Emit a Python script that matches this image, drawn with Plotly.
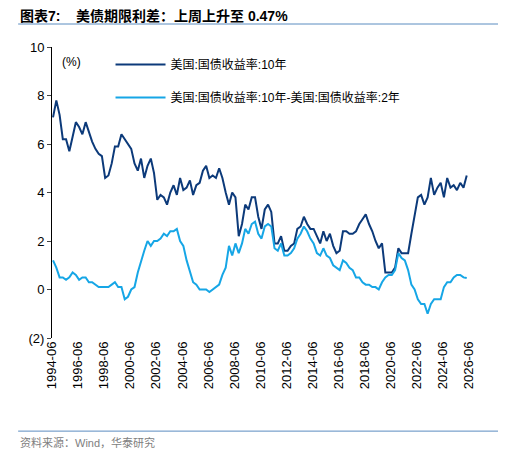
import pandas as pd
import plotly.graph_objects as go

# 美国10年期国债收益率（季度，%）
y10 = [7.1, 7.8,
       7.2, 6.2, 6.2, 5.7, 6.3, 6.9, 6.7, 6.4, 6.9, 6.5, 6.1, 5.8, 5.6, 5.5, 4.6, 4.7,
       5.2, 5.9, 5.9, 6.4, 6.2, 6.0, 5.8, 5.2, 4.9, 5.4, 4.6, 5.1, 5.4, 4.8, 3.7, 3.9,
       3.8, 3.5, 4.0, 4.3, 3.9, 4.6, 4.1, 4.2, 4.5, 3.9, 4.3, 4.4, 4.9, 5.1, 4.6, 4.7,
       4.6, 5.0, 4.6, 4.0, 3.5, 4.0, 3.8, 2.2, 2.7, 3.5, 3.3, 3.8, 3.8, 3.0, 2.5, 3.3,
       3.5, 3.2, 1.9, 1.9, 2.2, 1.6, 1.6, 1.8, 1.9, 2.5, 2.6, 3.0, 2.7, 2.5, 2.5, 2.2,
       1.9, 2.4, 2.0, 2.3, 1.8, 1.5, 1.6, 2.4, 2.4, 2.3, 2.3, 2.4, 2.7, 2.9, 3.1, 2.7,
       2.4, 2.0, 1.7, 1.9, 0.7, 0.7, 0.7, 0.9, 1.7, 1.5, 1.5, 1.5, 2.3, 3.0, 3.8, 3.9,
       3.5, 3.8, 4.6, 3.9, 4.2, 4.4, 3.8, 4.6, 4.2, 4.3, 4.1, 4.4,
       4.2, 4.7]
# 10年-2年利差（%）
spread = [1.2, 0.9,
          0.5, 0.5, 0.4, 0.5, 0.7, 0.6, 0.4, 0.5, 0.5, 0.3, 0.3, 0.2, 0.1, 0.1, 0.1, 0.1,
          0.2, 0.3, 0.1, 0.1, -0.4, -0.3, 0.0, 0.1, 0.7, 1.2, 1.6, 2.0, 1.8, 2.0, 2.0, 2.1,
          2.3, 2.2, 2.4, 2.4, 2.5, 2.0, 1.8, 1.2, 0.7, 0.3, 0.2, 0.0, 0.0, 0.0, -0.1, 0.0,
          0.1, 0.2, 0.6, 0.9, 1.8, 1.4, 1.9, 1.5, 1.9, 2.5, 2.3, 2.7, 2.8, 2.3, 2.1, 2.6,
          2.7, 2.6, 1.7, 1.6, 1.9, 1.4, 1.4, 1.5, 1.7, 2.1, 2.3, 2.6, 2.4, 2.1, 1.9, 1.5,
          1.4, 1.7, 1.4, 1.3, 1.0, 0.9, 0.8, 1.2, 1.1, 0.9, 0.8, 0.5, 0.5, 0.3, 0.2, 0.2,
          0.1, 0.1, 0.0, 0.3, 0.5, 0.6, 0.6, 0.8, 1.5, 1.3, 1.2, 0.8, 0.2, 0.0, -0.4, -0.6,
          -0.6, -1.0, -0.6, -0.4, -0.4, -0.4, 0.1, 0.3, 0.3, 0.5, 0.6, 0.6,
          0.5, 0.47]
dates = pd.date_range("1994-06-30", periods=len(y10), freq="QE")

tick_vals = [pd.Timestamp(f"{y}-06-01") for y in range(1994, 2027, 2)]
tick_text = [f"{y}-06" for y in range(1994, 2027, 2)]

font = "Liberation Sans, Noto Sans CJK SC, sans-serif"

fig = go.Figure()
fig.add_trace(go.Scatter(x=dates, y=y10, mode="lines", name="美国:国债收益率:10年",
                         legendgroup="a", line=dict(color="#0c3a7a", width=2)))
fig.add_trace(go.Scatter(x=dates, y=spread, mode="lines", name="美国:国债收益率:10年-美国:国债收益率:2年",
                         legendgroup="b", line=dict(color="#16a6e6", width=2)))

fig.update_layout(
    width=506, height=455,
    margin=dict(l=44, r=44, t=39, b=125),
    plot_bgcolor="white", paper_bgcolor="white",
    font=dict(family=font, size=13, color="black"),
    legend=dict(x=0.14, y=0.99, xanchor="left", yanchor="top", bgcolor="rgba(0,0,0,0)",
                font=dict(size=12), tracegroupgap=14, itemwidth=50),
    xaxis=dict(range=[pd.Timestamp("1994-06-01"), pd.Timestamp("2026-07-01")],
               tickvals=tick_vals, ticktext=tick_text, tickangle=-90,
               showgrid=False, showline=False, ticks="", zeroline=False),
    yaxis=dict(range=[-2, 10], tickvals=[-2, 0, 2, 4, 6, 8, 10],
               ticktext=["(2)", "0", "2", "4", "6", "8", "10"],
               showgrid=False, showline=True, linecolor="black", ticks="outside",
               ticklen=4, zeroline=False),
)
fig.add_annotation(text="<b>图表7:    美债期限利差：上周上升至 0.47%</b>", xref="paper", yref="paper",
                   x=-0.081, y=1.105, xanchor="left", yanchor="middle", showarrow=False,
                   font=dict(size=14))
fig.add_annotation(text="(%)", xref="paper", yref="paper", x=0.02, y=0.98,
                   xanchor="left", yanchor="top", showarrow=False, font=dict(size=12))
fig.add_annotation(text="资料来源：Wind，华泰研究", xref="paper", yref="paper",
                   x=-0.081, y=-0.33, xanchor="left", yanchor="top", showarrow=False,
                   font=dict(size=11, color="#808080"))
for yy in [1.079, -0.32]:
    fig.add_shape(type="line", xref="paper", yref="paper", x0=-0.081, x1=1.072, y0=yy, y1=yy,
                  line=dict(color="#5b8cc0", width=1))

fig.write_html("out.html")
